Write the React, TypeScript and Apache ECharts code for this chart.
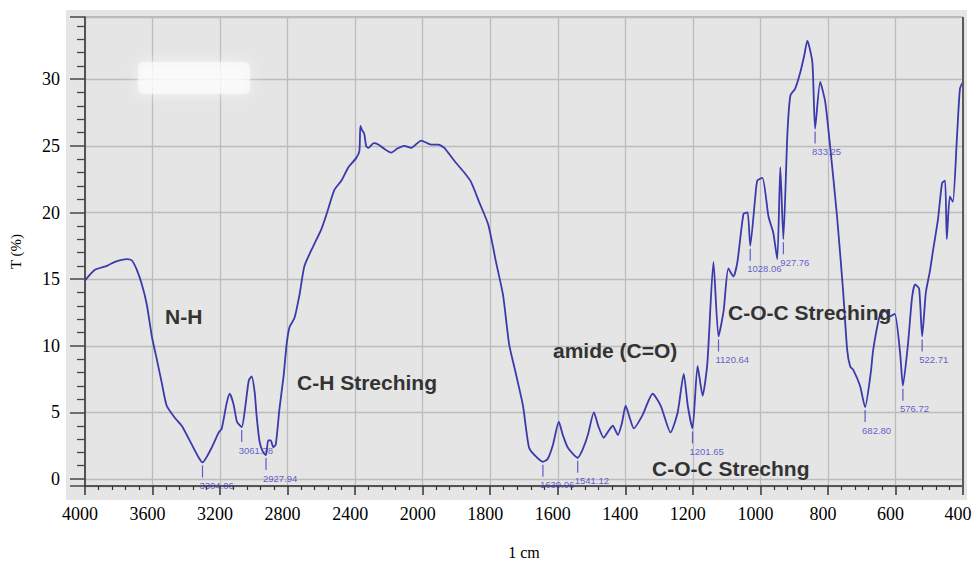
import React, { useEffect, useRef } from 'react';
import * as echarts from 'echarts';

// Axis tick wavenumbers (the original plot changes scale at 2000 cm-1)
const tickWavenumbers = [4000, 3600, 3200, 2800, 2400, 2000, 1800, 1600, 1400, 1200, 1000, 800, 600, 400];

// Spectrum: wavenumber (cm-1) and transmittance T (%)
const wavenumbers = [
  4000, 3941, 3870, 3823, 3752, 3722, 3693, 3663, 3634, 3604, 3575, 3545, 3516, 3468, 3427, 3368, 3326, 3304,
  3250, 3208, 3190, 3161, 3143, 3120, 3100, 3072, 3050, 3030, 3013, 2995, 2984, 2966, 2945, 2928, 2915, 2900,
  2885, 2870, 2848, 2824, 2806, 2789, 2759, 2730, 2700, 2647, 2600, 2570, 2523, 2481, 2440, 2393, 2375, 2369,
  2360, 2346, 2335, 2322, 2290, 2263, 2230, 2186, 2150, 2109, 2068, 2009, 1975, 1954, 1936, 1907, 1877, 1857,
  1833, 1806, 1783, 1762, 1744, 1724, 1703, 1685, 1665, 1644, 1630, 1614, 1597, 1585, 1570, 1541, 1525, 1511,
  1493, 1479, 1464, 1450, 1437, 1422, 1410, 1399, 1387, 1375, 1349, 1319, 1295, 1266, 1245, 1227, 1215, 1201,
  1186, 1171, 1157, 1139, 1124, 1109, 1095, 1080, 1068, 1050, 1038, 1030, 1015, 1009, 994, 976, 962, 950,
  941, 932, 920, 911, 897, 882, 870, 861, 846, 838, 823, 808, 793, 773, 755, 743, 734, 725, 705, 690,
  673, 666, 645, 631, 616, 602, 586, 578, 563, 551, 542, 530, 521, 510, 498, 489, 474, 462, 453, 448,
  439, 430, 418, 409, 400,
];
const transmittance = [
  14.9, 15.7, 16.0, 16.3, 16.5, 16.4, 15.7, 14.6, 13.1, 10.7, 9.0, 7.2, 5.5, 4.6, 4.0, 2.6, 1.6, 1.25,
  2.35, 3.5, 3.8, 5.7, 6.4, 5.6, 4.3, 3.9, 5.5, 7.4, 7.7, 6.5, 4.8, 2.8, 2.0, 1.8, 2.9, 2.9,
  2.4, 2.6, 5.3, 7.7, 10.1, 11.4, 12.1, 13.8, 16.0, 17.5, 18.75, 19.85, 21.7, 22.4, 23.4, 24.1, 24.6, 26.5,
  26.2, 25.9, 25.0, 24.85, 25.2, 25.1, 24.8, 24.5, 24.8, 25.0, 24.85, 25.4, 25.1, 25.1, 24.85, 23.9, 23.0, 22.3,
  20.8, 19.1, 16.3, 13.8, 10.1, 7.9, 5.5, 2.35, 1.7, 1.3, 1.5, 2.6, 4.3, 3.3, 2.35, 1.6, 2.3, 3.3,
  5.0, 3.9, 3.1, 3.6, 4.0, 3.3, 4.2, 5.5, 4.6, 3.8, 4.8, 6.4, 5.5, 3.5, 5.0, 7.9, 5.5, 3.8,
  8.5, 6.25, 8.7, 16.3, 10.7, 12.6, 15.8, 15.2, 16.3, 19.9, 20.0, 17.5, 21.2, 22.4, 22.6, 19.7, 18.5, 16.5,
  23.4, 18.0, 25.9, 28.8, 29.3, 30.5, 31.8, 32.9, 31.25, 26.3, 29.8, 28.3, 24.85, 19.7, 14.1, 9.7, 8.45, 8.2, 7.0, 5.4,
  8.0, 9.7, 12.4, 12.6, 12.2, 12.4, 9.4, 7.0, 10.1, 13.6, 14.6, 14.3, 10.7, 14.0, 15.6, 17.1, 19.5, 22.2, 22.4, 18.0,
  21.2, 20.8, 25.6, 29.3, 29.8,
];

// Labelled peaks (positions on the curve) and their printed values
const peakWavenumbers = [3304, 3072, 2928, 1644, 1541, 1201, 1124, 1030, 932, 838, 690, 578, 521];
const peakLabels = ['3304.06', '3061.78', '2927.94', '1639.06', '1541.12', '1201.65', '1120.64', '1028.06', '927.76', '833.25', '682.80', '576.72', '522.71'];

// Band assignment annotations
const bandLabels = ['N-H', 'C-H Streching', 'amide (C=O)', 'C-O-C Streching', 'C-O-C Strechng'];

const toU = (w: number) => {
  for (let i = 0; i < tickWavenumbers.length - 1; i++) {
    const a = tickWavenumbers[i];
    const b = tickWavenumbers[i + 1];
    if (w <= a && w >= b) return i + (a - w) / (a - b);
  }
  return w > tickWavenumbers[0] ? 0 : tickWavenumbers.length - 1;
};

const LINE = '#3a3aac';
const LABEL_BLUE = '#3a3ac4';

export default function App() {
  const ref = useRef<HTMLDivElement>(null);
  useEffect(() => {
    if (!ref.current) return;
    const chart = echarts.init(ref.current, undefined, { renderer: 'svg' });
    const lineData = wavenumbers.map((w, i) => [toU(w), transmittance[i]]);
    const peakData = peakWavenumbers.map((w) => [toU(w), transmittance[wavenumbers.indexOf(w)]]);
    const bandPos = [
      [165, 316],
      [297, 382],
      [553, 350],
      [728, 312],
      [652, 468],
    ];
    chart.setOption({
      animation: false,
      backgroundColor: '#ffffff',
      grid: { left: 83, right: 12, top: 17, bottom: 73, show: true, borderColor: '#8c8c8c', borderWidth: 1, backgroundColor: 'transparent' },
      xAxis: {
        type: 'value',
        min: 0,
        max: tickWavenumbers.length - 1,
        interval: 1,
        name: '1 cm',
        nameLocation: 'middle',
        nameGap: 58,
        nameTextStyle: { fontFamily: 'Liberation Serif', fontSize: 16, color: '#000' },
        axisLine: { show: true, onZero: false, lineStyle: { color: '#333', width: 1.5 } },
        axisTick: { show: true, inside: false, length: 9, lineStyle: { color: '#333', width: 1.5 } },
        minorTick: { show: true, splitNumber: 5, length: 4, lineStyle: { color: '#333', width: 1.2 } },
        axisLabel: {
          margin: 19,
          fontFamily: 'Liberation Serif',
          fontSize: 18,
          color: '#000',
          padding: [0, 10, 0, 0],
          formatter: (v: number) => {
            const i = Math.round(v);
            return Math.abs(v - i) < 1e-6 && tickWavenumbers[i] !== undefined ? String(tickWavenumbers[i]) : '';
          },
        },
        splitLine: { show: true, lineStyle: { color: '#bcbcbc', width: 1.3 } },
      },
      yAxis: {
        type: 'value',
        min: -0.52,
        max: 34.67,
        splitNumber: 7,
        name: 'T (%)',
        nameLocation: 'middle',
        nameGap: 62,
        nameTextStyle: { fontFamily: 'Liberation Serif', fontSize: 15, color: '#000' },
        axisLine: { show: true, lineStyle: { color: '#333', width: 1.5 } },
        axisTick: { show: true, inside: false, length: 15, lineStyle: { color: '#444', width: 1.5 } },
        minorTick: { show: true, splitNumber: 5, length: 8, lineStyle: { color: '#444', width: 1.3 } },
        axisLabel: {
          margin: 25,
          fontFamily: 'Liberation Serif',
          fontSize: 18,
          color: '#000',
          showMinLabel: false,
          showMaxLabel: false,
        },
        splitLine: { show: true, lineStyle: { color: '#bcbcbc', width: 1.3 } },
      },
      graphic: [
        {
          type: 'rect',
          z: -10,
          silent: true,
          shape: { x: 66, y: 10, width: 901, height: 490 },
          style: { fill: '#e5e5e5' },
        },
        {
          type: 'rect',
          z: 5,
          silent: true,
          shape: { x: 138, y: 62, width: 112, height: 32, r: 6 },
          style: { fill: 'rgba(255,255,255,0.6)', shadowBlur: 14, shadowColor: 'rgba(255,255,255,0.95)' },
        },
        {
          type: 'line',
          z: 5,
          silent: true,
          shape: { x1: 963, y1: 17, x2: 963, y2: 492 },
          style: { stroke: '#5a5a5a', lineWidth: 2 },
        },
        ...bandLabels.map((t, i) => ({
          type: 'text',
          z: 10,
          silent: true,
          x: bandPos[i][0],
          y: bandPos[i][1],
          style: {
            text: t,
            fill: '#333',
            font: 'bold 21px "Liberation Sans", Arial, sans-serif',
            textAlign: 'left',
            textVerticalAlign: 'middle',
          },
        })),
      ],
      series: [
        {
          type: 'line',
          data: lineData,
          showSymbol: false,
          smooth: 0.2,
          clip: true,
          lineStyle: { color: LINE, width: 1.8 },
          z: 3,
        },
        {
          type: 'scatter',
          data: peakData,
          symbol: 'rect',
          symbolSize: [1.2, 12],
          symbolOffset: [0, 9],
          itemStyle: { color: LABEL_BLUE },
          z: 4,
          silent: true,
          label: {
            show: true,
            position: 'bottom',
            distance: 3,
            align: 'left',
            offset: [-3, 0],
            fontFamily: 'Liberation Sans',
            fontSize: 9.5,
            color: LABEL_BLUE,
            formatter: (p: any) => peakLabels[p.dataIndex],
          },
        },
      ],
    });
    return () => chart.dispose();
  }, []);
  return <div ref={ref} style={{ position: 'fixed', left: 0, top: 0, width: 975, height: 565 }} />;
}
